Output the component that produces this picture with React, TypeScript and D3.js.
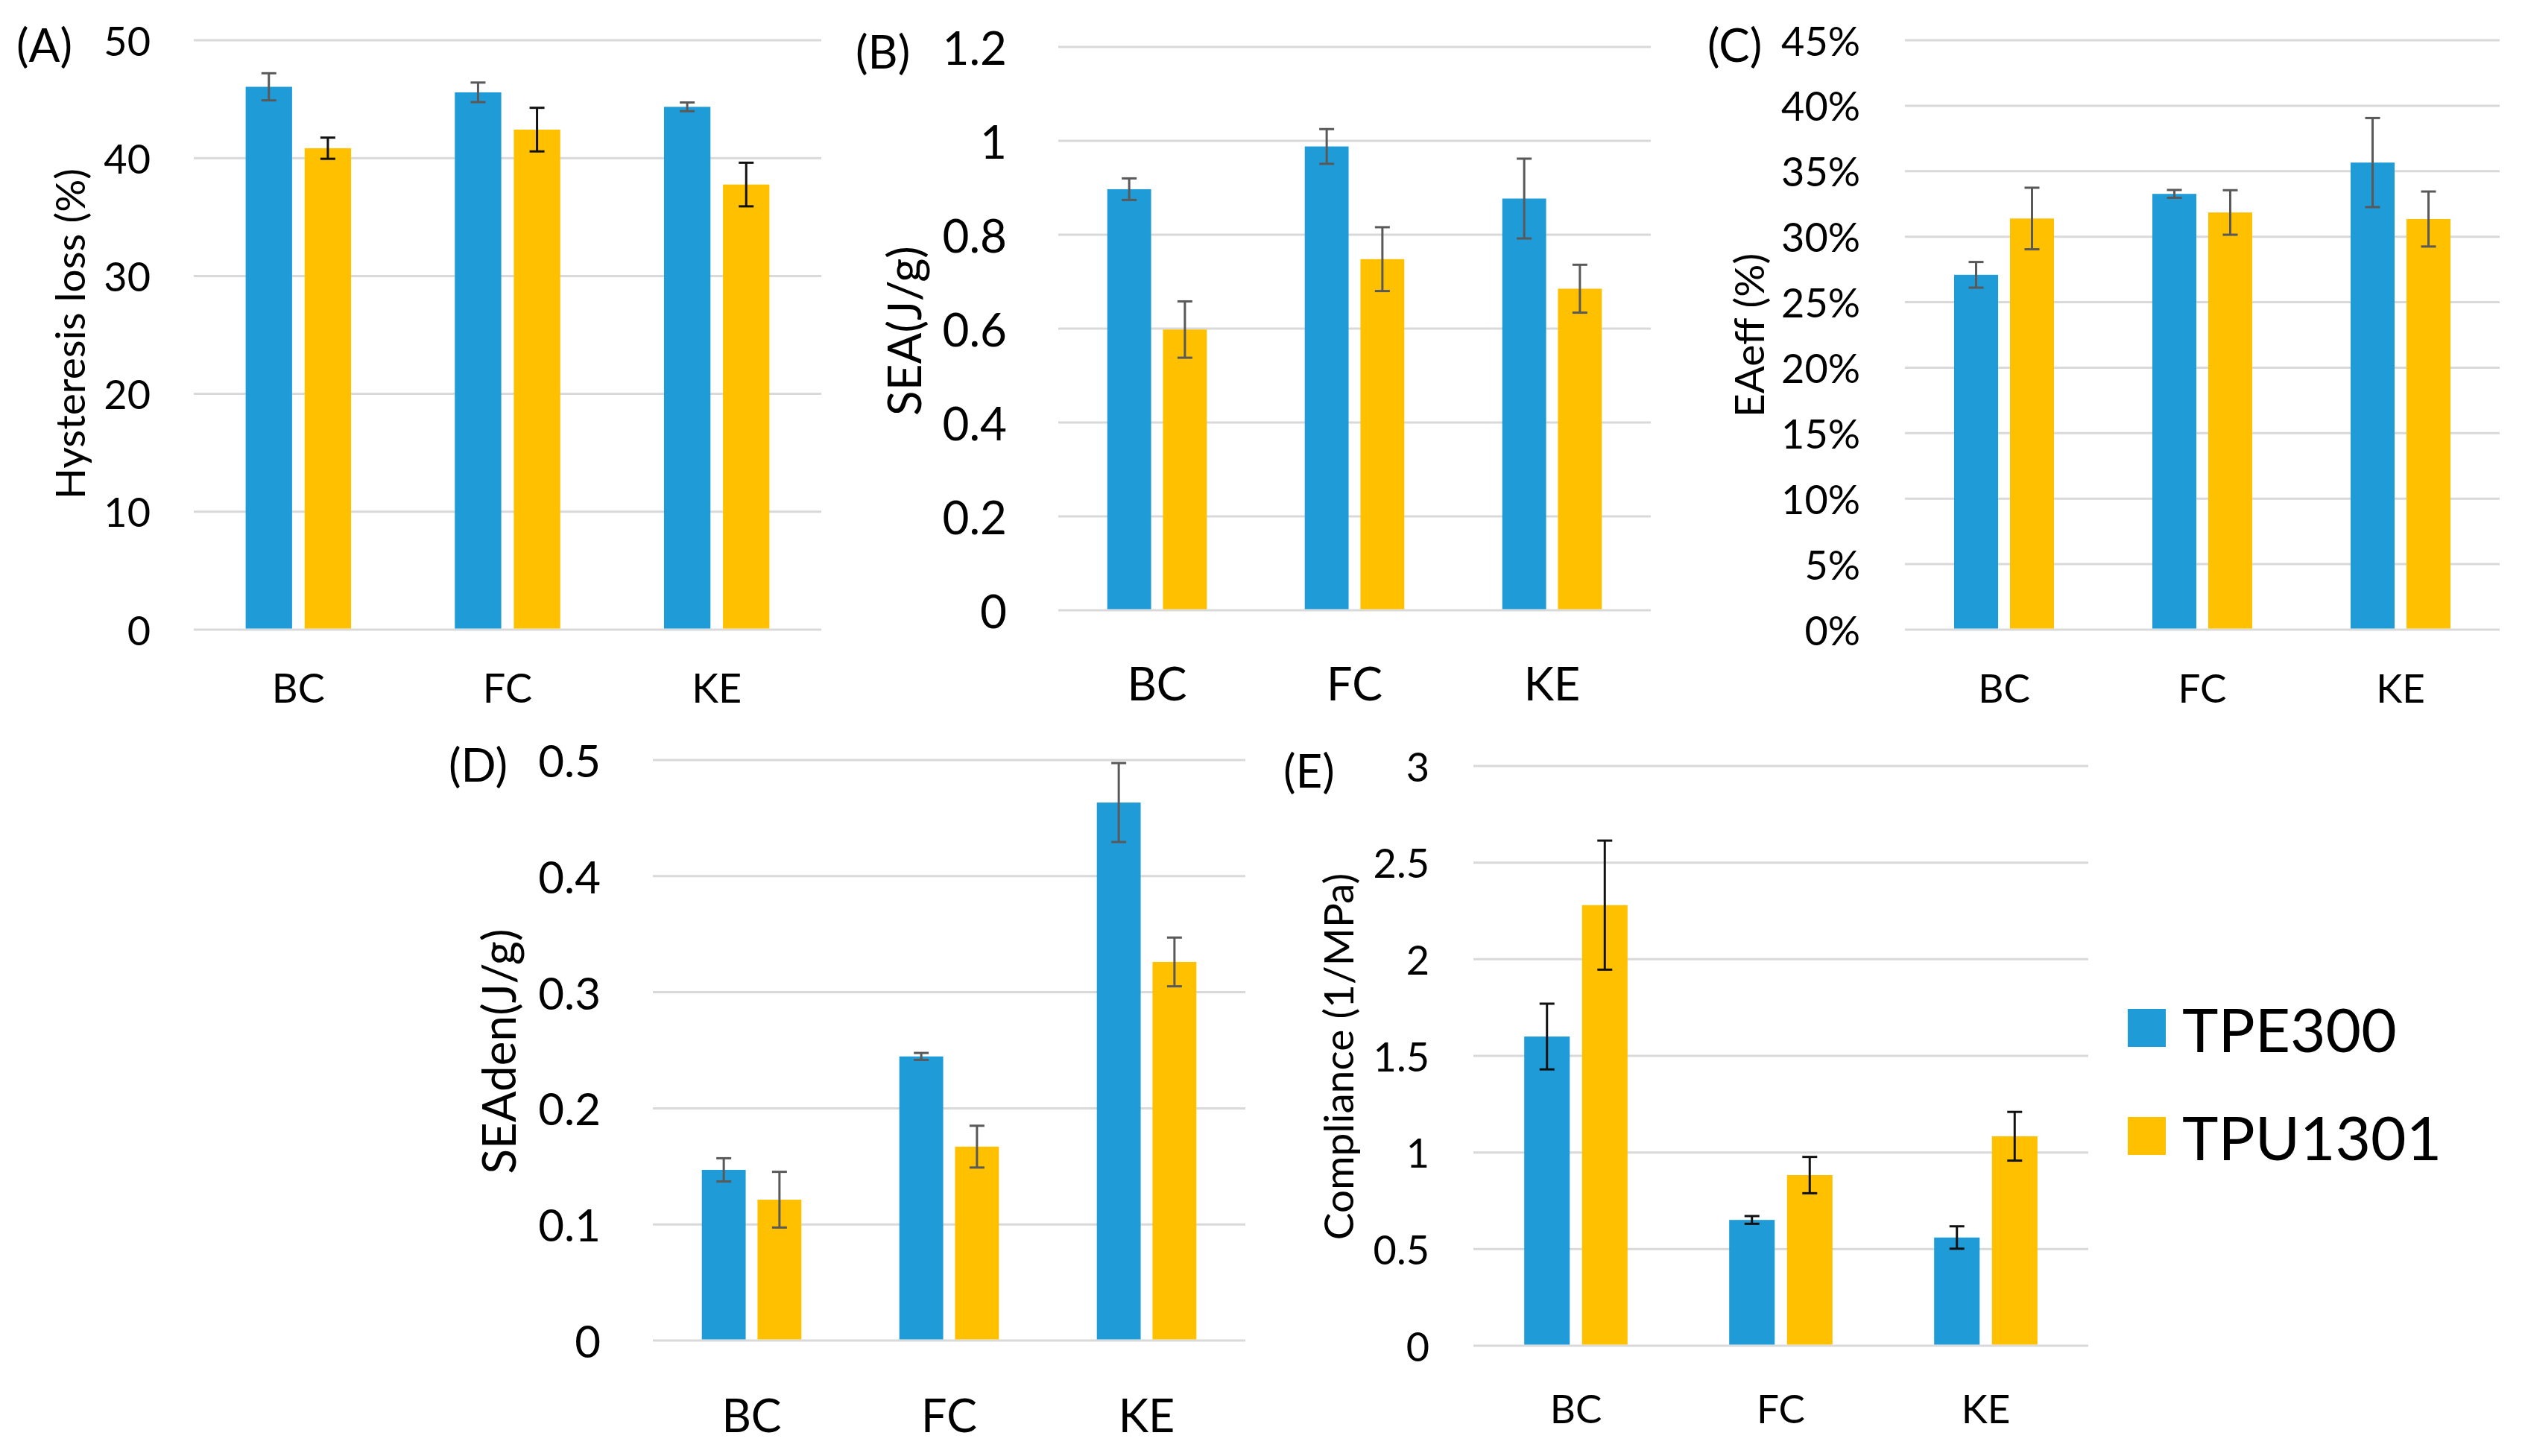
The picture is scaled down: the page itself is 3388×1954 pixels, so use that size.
import * as d3 from 'd3'

const categories = ['BC', 'FC', 'KE']
const seriesNames = ['TPE300', 'TPU1301']

// (A) hysteresis loss, %
const hysteresisTPE = [46.05, 45.58, 44.35]
const hysteresisTPEErr = [1.15, 0.83, 0.37]
const hysteresisTPU = [40.84, 42.42, 37.76]
const hysteresisTPUErr = [0.9, 1.85, 1.85]

// (B) SEA, J/g
const seaTPE = [0.897, 0.988, 0.877]
const seaTPEErr = [0.023, 0.037, 0.085]
const seaTPU = [0.598, 0.748, 0.685]
const seaTPUErr = [0.06, 0.068, 0.051]

// (C) EAeff, fraction
const eaeffTPE = [0.2709, 0.3327, 0.3566]
const eaeffTPEErr = [0.0098, 0.003, 0.034]
const eaeffTPU = [0.3139, 0.3185, 0.3135]
const eaeffTPUErr = [0.0235, 0.017, 0.021]

// (D) SEAden, J/g
const seadenTPE = [0.147, 0.2447, 0.4634]
const seadenTPEErr = [0.01, 0.003, 0.034]
const seadenTPU = [0.1213, 0.167, 0.3261]
const seadenTPUErr = [0.024, 0.018, 0.021]

// (E) compliance, 1/MPa
const complianceTPE = [1.6, 0.651, 0.56]
const complianceTPEErr = [0.17, 0.02, 0.058]
const complianceTPU = [2.28, 0.883, 1.084]
const complianceTPUErr = [0.334, 0.094, 0.126]

const ticksA = [0, 10, 20, 30, 40, 50]
const ticksB = [0, 0.2, 0.4, 0.6, 0.8, 1, 1.2]
const ticksC = [0, 0.05, 0.1, 0.15, 0.2, 0.25, 0.3, 0.35, 0.4, 0.45]
const ticksD = [0, 0.1, 0.2, 0.3, 0.4, 0.5]
const ticksE = [0, 0.5, 1, 1.5, 2, 2.5, 3]

const BLUE = '#1f9cd8'
const YELLOW = '#ffc000'
const GRID = '#d9d9d9'
const GREY = '#595959'
const FONT = 'Lato, "Noto Sans", sans-serif'

interface Panel {
  label: string
  title: string
  values: number[][]
  errors: number[][]
  ticks: number[]
  fmt: (v: number) => string
  left: number
  right: number
  top: number
  bottom: number
  tickX: number
  titleX: number
  titleY: number
  labelX: number
  catY: number
  font: number
  catFont: number
  titleFont: number
  errColors: string[]
}

const num = (v: number) => String(+v.toFixed(2))
const pct = d3.format('.0%')

const panels: Panel[] = [
  {
    label: '(A)', title: 'Hysteresis loss (%)',
    values: [hysteresisTPE, hysteresisTPU], errors: [hysteresisTPEErr, hysteresisTPUErr],
    ticks: ticksA, fmt: num,
    left: 260, right: 1102, top: 54, bottom: 845, tickX: 202, titleX: 93, titleY: 448,
    labelX: 22, catY: 922, font: 54, catFont: 54, titleFont: 55, errColors: [GREY, '#111'],
  },
  {
    label: '(B)', title: 'SEA(J/g)',
    values: [seaTPE, seaTPU], errors: [seaTPEErr, seaTPUErr],
    ticks: ticksB, fmt: num,
    left: 1420, right: 2215, top: 63, bottom: 819, tickX: 1351, titleX: 1212, titleY: 444,
    labelX: 1148, catY: 916, font: 62, catFont: 61, titleFont: 62, errColors: [GREY, GREY],
  },
  {
    label: '(C)', title: 'EAeff (%)',
    values: [eaeffTPE, eaeffTPU], errors: [eaeffTPEErr, eaeffTPUErr],
    ticks: ticksC, fmt: pct,
    left: 2556, right: 3354, top: 54, bottom: 845, tickX: 2496, titleX: 2346, titleY: 450,
    labelX: 2291, catY: 922, font: 54, catFont: 53, titleFont: 55, errColors: [GREY, GREY],
  },
  {
    label: '(D)', title: 'SEAden(J/g)',
    values: [seadenTPE, seadenTPU], errors: [seadenTPEErr, seadenTPUErr],
    ticks: ticksD, fmt: num,
    left: 876, right: 1671, top: 1020, bottom: 1799, tickX: 806, titleX: 668, titleY: 1411,
    labelX: 602, catY: 1898, font: 60, catFont: 61, titleFont: 62, errColors: [GREY, GREY],
  },
  {
    label: '(E)', title: 'Compliance (1/MPa)',
    values: [complianceTPE, complianceTPU], errors: [complianceTPEErr, complianceTPUErr],
    ticks: ticksE, fmt: num,
    left: 1977, right: 2802, top: 1028, bottom: 1806, tickX: 1918, titleX: 1795, titleY: 1418,
    labelX: 1722, catY: 1889, font: 54, catFont: 53, titleFont: 55, errColors: ['#111', '#111'],
  },
]

function BarPanel({ p }: { p: Panel }) {
  const x = d3.scaleBand<string>().domain(categories).range([p.left, p.right])
  const band = x.bandwidth()
  const barW = band * 0.222
  const step = band * 0.282
  // two bars per group, centred at ±step/2 around the category centre
  const inner = d3
    .scaleBand<string>()
    .domain(seriesNames)
    .range([-step / 2 - barW / 2, step / 2 + barW / 2])
    .paddingInner(1 - barW / step)
  const y = d3
    .scaleLinear()
    .domain([0, p.ticks[p.ticks.length - 1]])
    .range([p.bottom, p.top])
  const colors = [BLUE, YELLOW]
  const cap = 10

  return (
    <g fontFamily={FONT}>
      {p.ticks.map(t => (
        <g key={t}>
          <line x1={p.left} x2={p.right} y1={y(t)} y2={y(t)} stroke={GRID} strokeWidth={3} />
          <text x={p.tickX} y={y(t)} textAnchor="end" dominantBaseline="central" fontSize={p.font} fill="#000">
            {p.fmt(t)}
          </text>
        </g>
      ))}
      {seriesNames.map((s, si) =>
        categories.map((c, ci) => {
          const v = p.values[si][ci]
          const e = p.errors[si][ci]
          const bx = (x(c) as number) + band / 2 + (inner(s) as number)
          const cx = bx + inner.bandwidth() / 2
          return (
            <g key={s + c}>
              <rect x={bx} y={y(v)} width={inner.bandwidth()} height={p.bottom - y(v) - 1.5} fill={colors[si]} />
              <line x1={cx} x2={cx} y1={y(v + e)} y2={y(v - e)} stroke={p.errColors[si]} strokeWidth={3} />
              <line x1={cx - cap} x2={cx + cap} y1={y(v + e)} y2={y(v + e)} stroke={p.errColors[si]} strokeWidth={3} />
              <line x1={cx - cap} x2={cx + cap} y1={y(v - e)} y2={y(v - e)} stroke={p.errColors[si]} strokeWidth={3} />
            </g>
          )
        })
      )}
      {categories.map(c => (
        <text key={c} x={(x(c) as number) + band / 2} y={p.catY} textAnchor="middle" dominantBaseline="central" fontSize={p.catFont} fill="#000">
          {c}
        </text>
      ))}
      <text
        transform={`translate(${p.titleX},${p.titleY}) rotate(-90)`}
        textAnchor="middle"
        dominantBaseline="central"
        fontSize={p.titleFont}
        fill="#000"
      >
        {p.title}
      </text>
      <text x={p.labelX} y={p.top + 5} dominantBaseline="central" fontSize={62} fill="#000">
        {p.label}
      </text>
    </g>
  )
}

export default function App() {
  const legendColors = [BLUE, YELLOW]
  const legendY = d3.scalePoint<string>().domain(seriesNames).range([1380, 1525])
  return (
    <svg
      width={3388}
      height={1954}
      viewBox="0 0 3388 1954"
      style={{ position: 'absolute', left: 0, top: 0, background: '#fff' }}
    >
      <rect width={3388} height={1954} fill="#fff" />
      {panels.map(p => (
        <BarPanel key={p.label} p={p} />
      ))}
      <g fontFamily={FONT}>
        {seriesNames.map((s, i) => (
          <g key={s}>
            <rect x={2855} y={(legendY(s) as number) - 26} width={51} height={51} fill={legendColors[i]} />
            <text x={2928} y={legendY(s) as number} dominantBaseline="central" fontSize={82} fill="#000">
              {s}
            </text>
          </g>
        ))}
      </g>
    </svg>
  )
}
